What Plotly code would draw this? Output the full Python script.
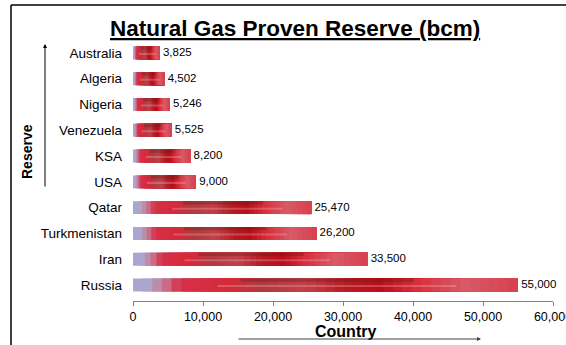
import plotly.graph_objects as go
from plotly.colors import hex_to_rgb

# Proven natural gas reserves, billion cubic metres
countries = ["Australia", "Algeria", "Nigeria", "Venezuela", "KSA", "USA",
             "Qatar", "Turkmenistan", "Iran", "Russia"]
reserves = [3825, 4502, 5246, 5525, 8200, 9000, 25470, 26200, 33500, 55000]

x_ticks = [0, 10000, 20000, 30000, 40000, 50000, 60000]

# Colour ramp along each bar (position as a fraction of the bar's length)
ramp = [
    (0.00, "#A8A8D2"), (0.04, "#ACA6CC"), (0.08, "#C87A92"),
    (0.12, "#D8304A"), (0.24, "#D42A3A"), (0.34, "#B03A40"),
    (0.45, "#C2404A"), (0.55, "#B41C24"), (0.64, "#B80E1A"),
    (0.74, "#D8303E"), (0.86, "#D85A68"), (1.00, "#D8404E"),
]
N_SEG = 40

W, H = 566, 345
L, R, T, B = 133, 13, 40, 44
pw, ph = W - L - R, H - T - B


def px(x):
    return (x - L) / pw


def py(y):
    return 1 - (y - T) / ph


def ramp_color(f):
    for (f0, c0), (f1, c1) in zip(ramp[:-1], ramp[1:]):
        if f0 <= f <= f1:
            t = (f - f0) / (f1 - f0)
            a, b = hex_to_rgb(c0), hex_to_rgb(c1)
            return "rgb({},{},{})".format(*[round(a[k] + (b[k] - a[k]) * t) for k in range(3)])
    return ramp[-1][1]


fig = go.Figure()

# each segment runs from its start to the bar's end; later segments paint
# over earlier ones, so the ramp has no seams
for i in range(N_SEG):
    f0 = i / N_SEG
    fig.add_trace(go.Bar(
        y=countries,
        x=[v * (1 - f0) for v in reserves],
        base=[v * f0 for v in reserves],
        orientation="h",
        width=0.5,
        marker=dict(color=ramp_color(f0 + 0.5 / N_SEG), line=dict(width=0)),
        hoverinfo="skip",
        showlegend=False,
    ))

# darker band along the upper edge of each bar
fig.add_trace(go.Bar(
    y=countries,
    x=[v * 0.45 for v in reserves],
    base=[v * 0.28 for v in reserves],
    orientation="h",
    width=0.13,
    offset=-0.25,
    marker=dict(color="rgba(90,25,20,0.3)", line=dict(width=0)),
    hoverinfo="skip",
    showlegend=False,
))
# light streak through the lower middle
fig.add_trace(go.Bar(
    y=countries,
    x=[v * 0.62 for v in reserves],
    base=[v * 0.22 for v in reserves],
    orientation="h",
    width=0.08,
    offset=0.0,
    marker=dict(color="rgba(250,190,190,0.3)", line=dict(width=0)),
    hoverinfo="skip",
    showlegend=False,
))

# value labels
fig.add_trace(go.Scatter(
    y=countries,
    x=reserves,
    mode="text",
    text=[f" {v:,}" for v in reserves],
    textposition="middle right",
    textfont=dict(family="Liberation Sans, Arial", size=11.5, color="#000000"),
    hoverinfo="skip",
    showlegend=False,
    cliponaxis=False,
))

fig.update_layout(
    width=W, height=H,
    margin=dict(l=L, r=R, t=T, b=B, autoexpand=False),
    barmode="overlay",
    plot_bgcolor="white",
    paper_bgcolor="white",
    font=dict(family="Liberation Sans, Arial", size=11, color="#000000"),
    xaxis=dict(
        range=[0, 60000],
        tickvals=x_ticks,
        ticktext=[f"{v:,}" for v in x_ticks],
        ticklabeloverflow="allow",
        automargin=False,
        showgrid=False,
        zeroline=False,
        showline=True,
        linecolor="#808080",
        linewidth=1,
        ticks="outside",
        ticklen=4,
        tickcolor="#808080",
        tickfont=dict(size=12.5),
    ),
    yaxis=dict(
        categoryorder="array",
        categoryarray=countries,
        range=[9.62, -0.5],
        automargin=False,
        showgrid=False,
        zeroline=False,
        showline=False,
        ticks="",
        ticklabelstandoff=10,
        tickfont=dict(size=13.5),
    ),
    annotations=[
        dict(text="<b><u>Natural Gas Proven Reserve (bcm)</u></b>",
             xref="paper", yref="paper", x=px(295), y=py(28),
             xanchor="center", yanchor="middle", showarrow=False,
             font=dict(size=22.5)),
        dict(text="<b>Country</b>",
             xref="paper", yref="paper", x=px(345), y=py(331),
             xanchor="center", yanchor="middle", showarrow=False,
             font=dict(size=16)),
        dict(text="<b>Reserve</b>",
             xref="paper", yref="paper", x=px(27), y=py(152),
             xanchor="center", yanchor="middle", showarrow=False,
             textangle=-90, font=dict(size=14)),
        # horizontal arrow under the axis title
        dict(xref="paper", yref="paper",
             x=px(481), y=py(339), ax=-(481 - 237), ay=0,
             text="", showarrow=True, arrowhead=2, arrowsize=0.8,
             arrowwidth=1, arrowcolor="#404040"),
        # vertical arrow beside the category axis
        dict(xref="paper", yref="paper",
             x=px(45), y=py(44), ax=0, ay=188 - 44,
             text="", showarrow=True, arrowhead=2, arrowsize=0.8,
             arrowwidth=1, arrowcolor="#000000"),
    ],
    shapes=[
        dict(type="line", xref="paper", yref="paper",
             x0=px(11), x1=px(11), y0=py(5), y1=py(346),
             line=dict(color="#000000", width=1.5)),
        dict(type="line", xref="paper", yref="paper",
             x0=px(11), x1=px(580), y0=py(5), y1=py(5),
             line=dict(color="#000000", width=1.5)),
    ],
)

fig.write_html("out.html")
